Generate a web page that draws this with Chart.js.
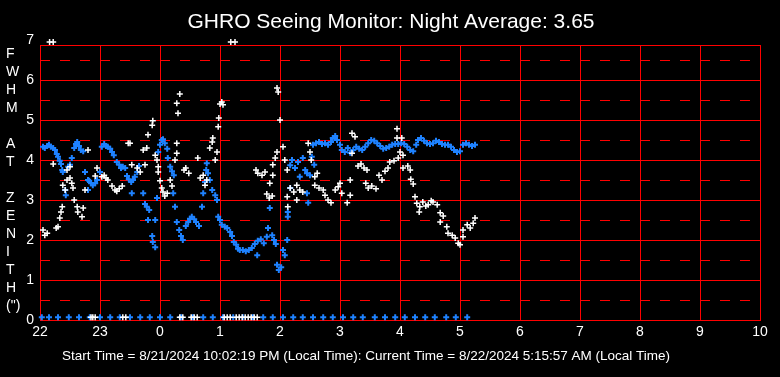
<!DOCTYPE html>
<html><head><meta charset="utf-8">
<script src="https://cdn.jsdelivr.net/npm/chart.js@4.4.0/dist/chart.umd.min.js"></script>
<style>html,body{margin:0;padding:0;background:#000;overflow:hidden}canvas{display:block;background:#000}</style>
</head><body>
<canvas id="c" width="780" height="377"></canvas>
<script>
const FONT = '"Liberation Sans", Arial, sans-serif';
const titleText = 'GHRO Seeing Monitor: Night Average: 3.65';
const captionText = 'Start Time = 8/21/2024 10:02:19 PM (Local Time): Current Time = 8/22/2024 5:15:57 AM (Local Time)';
const yAxisLetters = ['F','W','H','M','','A','T','','Z','E','N','I','T','H','(")'];

// x = hours since 22:00
const xTickValues = [0,1,2,3,4,5,6,7,8,9,10,11,12];
const xTickLabels = ['22','23','0','1','2','3','4','5','6','7','8','9','10'];
const yLabelValues = [0,1,2,3,4,5,6,7];
const yLabelTexts = ['0','1','2','3','4','5','6','7'];
const ySolidLines = [0,1,2,3,4,5,6];
const yDashedLines = [0.5,1.5,2.5,3.5,4.5,5.5,6.5];

const whiteTimes = [0.05,0.08,0.12,0.22,0.27,0.30,0.33,0.35,0.37,0.38,0.42,0.45,0.45,0.50,0.50,0.53,0.55,0.57,0.62,0.63,0.70,0.72,0.75,0.80,0.92,0.95,1.03,1.07,1.10,1.13,1.20,1.25,1.28,1.32,1.37,1.47,1.50,1.53,1.62,1.67,1.72,1.75,1.78,1.80,1.87,1.88,1.92,1.95,1.97,1.97,2.00,2.03,2.05,2.08,2.12,2.17,2.20,2.25,2.28,2.28,2.28,2.30,2.33,2.40,2.43,2.48,2.63,2.67,2.72,2.75,2.78,2.83,2.87,2.88,2.92,2.95,2.97,2.98,3.00,3.03,3.05,3.60,3.63,3.70,3.75,3.78,3.82,3.83,3.87,3.88,3.88,3.92,3.95,3.95,3.97,4.00,4.05,4.08,4.12,4.12,4.13,4.17,4.23,4.28,4.28,4.33,4.38,4.47,4.50,4.52,4.58,4.62,4.58,4.65,4.72,4.75,4.80,4.85,4.92,4.97,5.00,5.03,5.12,5.17,5.17,5.20,5.25,5.20,5.30,5.35,5.40,5.45,5.43,5.47,5.53,5.60,5.65,5.70,5.75,5.80,5.83,5.90,5.95,5.95,6.03,6.00,6.05,5.97,6.05,6.13,6.17,6.18,6.22,6.25,6.28,6.32,6.33,6.38,6.43,6.47,6.52,6.55,6.62,6.67,6.72,6.67,6.78,6.80,6.87,6.92,6.97,7.00,7.05,7.05,7.12,7.17,7.22,7.25];
const whiteValues = [2.25,2.12,2.17,3.9,2.3,2.33,2.55,2.7,2.83,3.37,3.25,3.5,3.75,3.83,3.55,3.42,3.3,3.0,2.83,2.7,2.58,2.8,3.25,4.25,3.6,3.8,3.58,3.62,3.55,3.5,3.35,3.25,3.22,3.28,3.35,4.42,4.42,3.88,3.8,3.7,4.25,3.88,4.3,4.63,4.87,4.98,4.12,4.0,3.83,3.7,3.48,3.3,3.2,3.1,3.17,3.5,3.35,4.0,4.17,4.42,5.42,5.17,5.65,3.75,3.8,3.67,4.05,3.55,3.62,3.37,3.5,4.3,4.45,4.55,4.0,4.2,4.83,5.05,5.4,5.45,5.38,3.75,3.67,3.62,3.7,3.15,3.05,3.42,3.1,3.62,3.88,4.05,4.2,5.8,5.7,5.0,4.33,4.0,3.75,3.08,2.83,3.3,3.2,3.37,3.0,3.25,3.2,4.42,4.2,4.0,3.58,3.67,3.37,3.3,3.25,3.12,3.0,2.93,3.25,3.33,3.42,3.17,2.93,3.5,3.12,4.67,4.58,4.17,3.85,3.9,3.8,3.75,3.42,3.3,3.35,3.28,3.62,3.5,3.72,3.8,3.95,3.98,4.78,4.55,4.55,4.2,4.12,4.05,3.8,3.85,3.75,3.52,3.4,3.08,2.92,2.7,2.83,2.95,2.85,2.88,2.98,2.95,2.88,2.68,2.6,2.45,2.33,2.17,2.12,2.05,1.92,1.88,2.08,2.25,2.38,2.3,2.42,2.55];
const whiteZeroTimes = [0.85,0.88,0.92,1.38,1.43,2.33,2.38,2.52,2.57,2.62,3.07,3.12,3.17,3.27,3.32,3.37,3.42,3.47,3.52,3.57,3.62];
const whiteTopTimes = [0.16,0.22,3.18,3.25];

const blueTimes = [0.05,0.08,0.12,0.15,0.18,0.22,0.25,0.28,0.30,0.33,0.35,0.37,0.38,0.42,0.43,0.47,0.50,0.53,0.57,0.60,0.62,0.65,0.68,0.72,0.75,0.80,0.80,0.82,0.85,0.88,0.92,0.95,1.00,1.03,1.07,1.10,1.13,1.17,1.20,1.23,1.28,1.32,1.35,1.38,1.42,1.45,1.48,1.52,1.55,1.58,1.62,1.65,1.53,1.72,1.75,1.78,1.82,1.80,1.92,1.87,1.88,1.92,1.95,1.97,2.00,2.03,2.05,2.08,2.12,2.13,2.17,2.20,2.23,2.22,2.25,2.28,2.32,2.35,2.38,2.43,2.47,2.50,2.53,2.57,2.60,2.65,2.70,2.72,2.75,2.77,2.78,2.80,2.83,2.87,2.92,2.95,2.97,3.00,3.03,3.08,3.12,3.17,3.20,3.23,3.27,3.30,3.33,3.38,3.43,3.48,3.53,3.58,3.62,3.63,3.68,3.73,3.78,3.80,3.83,3.87,3.90,3.93,3.95,3.98,4.02,4.05,4.08,4.12,4.13,4.13,4.17,4.17,4.20,4.25,4.30,4.33,4.38,4.42,4.45,4.45,4.47,4.50,4.53,4.57,4.55,4.60,4.65,4.70,4.75,4.80,4.85,4.88,4.92,4.95,5.00,5.03,5.08,5.13,5.17,5.22,5.27,5.32,5.37,5.42,5.47,5.52,5.57,5.62,5.67,5.72,5.77,5.82,5.87,5.92,5.97,6.02,6.07,6.12,6.17,6.22,6.27,6.30,6.35,6.40,6.45,6.50,6.55,6.60,6.65,6.70,6.75,6.80,6.85,6.90,6.95,7.00,7.05,7.10,7.15,7.20,7.25];
const blueValues = [4.33,4.3,4.35,4.38,4.33,4.3,4.25,4.15,4.08,3.98,3.9,3.75,3.7,3.25,3.12,3.83,3.88,4.05,4.3,4.4,4.45,4.35,4.25,4.22,3.7,3.5,3.25,3.48,3.42,3.37,3.42,3.5,3.7,4.33,4.4,4.35,4.33,4.28,4.2,4.12,3.95,3.88,3.8,3.83,3.8,3.6,3.52,3.45,3.5,3.58,3.7,3.85,3.17,3.17,2.9,2.83,2.75,2.5,2.5,2.1,1.95,1.82,3.05,4.2,4.38,4.5,4.52,4.42,4.28,4.05,3.83,3.72,3.62,3.17,2.83,2.45,2.25,2.1,2.0,2.35,2.45,2.53,2.58,2.52,2.45,2.35,2.83,3.17,3.45,3.75,3.92,3.67,3.5,3.25,3.12,3.0,2.58,2.5,2.38,2.33,2.3,2.2,2.1,1.95,1.88,1.78,1.75,1.75,1.72,1.75,1.8,1.9,1.62,1.98,2.02,1.92,2.08,2.3,2.8,2.12,2.0,1.9,1.38,1.25,1.32,1.75,1.62,2.0,2.7,2.58,3.3,3.87,4.0,3.8,3.95,3.58,4.05,3.75,3.67,3.17,2.93,3.62,4.08,3.88,4.38,4.42,4.45,4.4,4.42,4.38,4.45,4.55,4.6,4.5,4.38,4.25,4.2,4.3,4.18,4.25,4.33,4.28,4.25,4.33,4.42,4.5,4.48,4.42,4.35,4.28,4.3,4.33,4.38,4.4,4.4,4.42,4.4,4.33,4.25,4.22,4.38,4.5,4.55,4.48,4.42,4.4,4.42,4.48,4.45,4.4,4.38,4.38,4.33,4.25,4.2,4.22,4.38,4.42,4.38,4.35,4.38];
const blueZeroTimes = [0.03,0.15,0.30,0.48,0.65,0.83,1.00,1.17,1.33,1.50,1.67,1.83,2.00,2.17,2.35,2.55,2.72,2.88,3.05,3.22,3.38,3.55,3.72,3.88,4.05,4.22,4.38,4.55,4.72,4.88,5.05,5.22,5.38,5.58,5.75,5.92,6.08,6.25,6.42,6.58,6.77,6.93,7.12];

const ZERO_ROW_VALUE = 0.07;
const TOP_ROW_VALUE = 6.95;

const whitePoints = whiteTimes.map((t,i)=>({x:t,y:whiteValues[i]}))
  .concat(whiteZeroTimes.map(t=>({x:t,y:ZERO_ROW_VALUE})))
  .concat(whiteTopTimes.map(t=>({x:t,y:TOP_ROW_VALUE})));
const bluePoints = blueTimes.map((t,i)=>({x:t,y:blueValues[i]}))
  .concat(blueZeroTimes.map(t=>({x:t,y:ZERO_ROW_VALUE})));

const RED = '#ff0000';
const Y_MAX = 6.8752;

const textPlugin = {
  id: 'texts',
  afterDraw(chart) {
    const ctx = chart.ctx;
    ctx.save();
    ctx.fillStyle = '#ffffff';
    ctx.textBaseline = 'alphabetic';
    ctx.textAlign = 'center';
    ctx.font = '21px ' + FONT;
    ctx.fillText(titleText, 391, 28);
    ctx.textAlign = 'left';
    ctx.font = '13.5px ' + FONT;
    ctx.fillText(captionText, 62, 360);
    ctx.font = '14px ' + FONT;
    yAxisLetters.forEach((s, i) => ctx.fillText(s, 6, 58 + 18 * i));
    ctx.restore();
  }
};

const hiddenY = (values, dash) => ({
  type: 'linear', position: 'left', min: 0, max: Y_MAX,
  afterBuildTicks: s => { s.ticks = values.map(v => ({ value: v })); },
  afterFit: s => { s.width = 0; },
  grid: { color: RED, lineWidth: 1, drawTicks: false },
  border: { display: false, dash: dash },
  ticks: { display: false, autoSkip: false }
});

new Chart(document.getElementById('c'), {
  type: 'scatter',
  data: { datasets: [
    { label: 'white', data: whitePoints, pointStyle: 'cross', pointRadius: 3, pointBorderWidth: 1.5,
      borderColor: '#ffffff', backgroundColor: '#ffffff', clip: false },
    { label: 'blue', data: bluePoints, pointStyle: 'cross', pointRadius: 3, pointBorderWidth: 2,
      borderColor: '#1e82ff', backgroundColor: '#1e82ff', clip: false }
  ]},
  options: {
    responsive: false, animation: false, events: [], devicePixelRatio: 1,
    layout: { padding: { top: 45, right: 20, bottom: 0, left: 0 } },
    plugins: { legend: { display: false }, title: { display: false }, tooltip: { enabled: false } },
    scales: {
      x: {
        type: 'linear', position: 'bottom', min: 0, max: 12,
        afterBuildTicks: s => { s.ticks = xTickValues.map(v => ({ value: v })); },
        afterFit: s => { s.height = 57; },
        grid: { color: RED, lineWidth: 1, drawTicks: false },
        border: { color: RED, width: 1 },
        ticks: { color: '#ffffff', font: { family: FONT, size: 14 }, padding: 4, autoSkip: false, maxRotation: 0,
          callback: v => { const i = xTickValues.indexOf(v); return i >= 0 ? xTickLabels[i] : ''; } }
      },
      xTop: {
        type: 'linear', position: 'top', min: 0, max: 12,
        afterFit: s => { s.height = 0; },
        grid: { display: false, drawTicks: false },
        border: { display: true, color: RED, width: 1 },
        ticks: { display: false }
      },
      y: {
        type: 'linear', position: 'left', min: 0, max: Y_MAX,
        afterBuildTicks: s => { s.ticks = yLabelValues.map(v => ({ value: v })); },
        afterFit: s => { s.width = 40; },
        grid: { display: false, drawTicks: false },
        border: { display: true, color: RED, width: 1 },
        ticks: { color: '#ffffff', font: { family: FONT, size: 14 }, padding: 6, autoSkip: false,
          callback: v => { const i = yLabelValues.indexOf(v); return i >= 0 ? yLabelTexts[i] : ''; } }
      },
      ySolid: hiddenY(ySolidLines, []),
      yDashed: hiddenY(yDashedLines, [10, 10])
    }
  },
  plugins: [textPlugin]
});
</script>
</body></html>
